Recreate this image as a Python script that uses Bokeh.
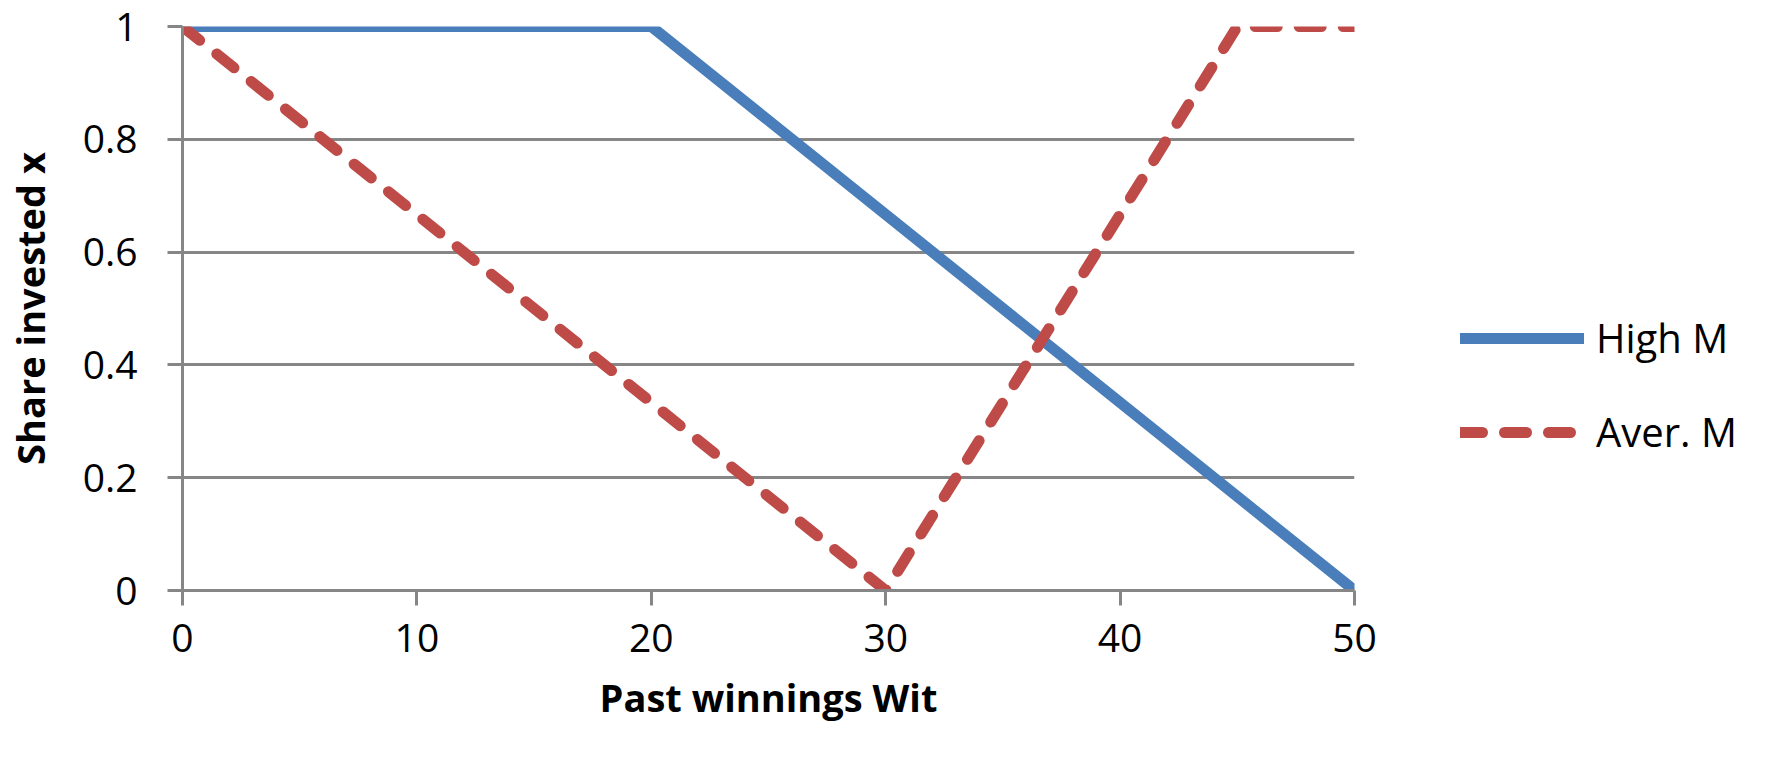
from bokeh.plotting import figure
from bokeh.models import FixedTicker, CustomJSTickFormatter, Legend, LegendItem, Range1d
from bokeh.embed import file_html
from bokeh.resources import INLINE

# Data
high_x = [0, 20, 50]
high_y = [1, 1, 0]
aver_x = [0, 30, 45, 50]
aver_y = [1, 0, 1, 1]
x_ticks = [0, 10, 20, 30, 40, 50]
y_ticks = [0, 0.2, 0.4, 0.6, 0.8, 1]

FONT = "Open Sans"
GRID = "#868686"

p = figure(output_backend="svg", toolbar_location=None,
           x_range=Range1d(0, 50), y_range=Range1d(0, 1),
           frame_width=1172, frame_height=564,
           min_border_left=177, min_border_top=26, min_border_right=415, min_border_bottom=155)
p.outline_line_color = None
p.background_fill_color = "white"
p.border_fill_color = "white"

hr = p.line(high_x, high_y, line_color="#4a7ebb", line_width=11, line_cap="round", line_join="round")
ar = p.line(aver_x, aver_y, line_color="#be4b48", line_width=11, line_dash="22 22", line_cap="round", line_join="round")

# axes
p.xaxis.ticker = FixedTicker(ticks=x_ticks)
p.yaxis.ticker = FixedTicker(ticks=y_ticks)
p.yaxis.formatter = CustomJSTickFormatter(code="return tick.toFixed(1).replace(/\\.0$/, '');")
for ax in (p.xaxis, p.yaxis):
    ax.axis_line_color = GRID
    ax.axis_line_width = 3
    ax.major_tick_line_color = GRID
    ax.major_tick_line_width = 3
    ax.major_tick_out = 15
    ax.major_tick_in = 0
    ax.minor_tick_line_color = None
    ax.major_label_text_font = FONT
    ax.major_label_text_font_size = "39px"
    ax.major_label_text_color = "black"
    ax.axis_label_text_font = FONT
    ax.axis_label_text_font_size = "38px"
    ax.axis_label_text_font_style = "bold"
    ax.axis_label_text_color = "black"
p.xaxis.axis_label = "Past winnings Wit"
p.yaxis.axis_label = "Share invested x"
p.yaxis.major_label_standoff = 30
p.xaxis.major_label_standoff = 18
p.xaxis.axis_label_standoff = 16
p.yaxis.axis_label_standoff = 24

p.xgrid.grid_line_color = None
p.ygrid.grid_line_color = GRID
p.ygrid.grid_line_width = 3

legend = Legend(items=[LegendItem(label="High M", renderers=[hr]),
                       LegendItem(label="Aver. M", renderers=[ar])],
                location=(106, 131), orientation="vertical",
                glyph_width=124, glyph_height=50, label_height=50,
                label_standoff=12, spacing=39, padding=0, margin=0,
                border_line_color=None, background_fill_alpha=0,
                label_text_font=FONT, label_text_font_size="40px", label_text_color="black")
p.add_layout(legend, "right")

open("out.html", "w").write(file_html(p, INLINE))
